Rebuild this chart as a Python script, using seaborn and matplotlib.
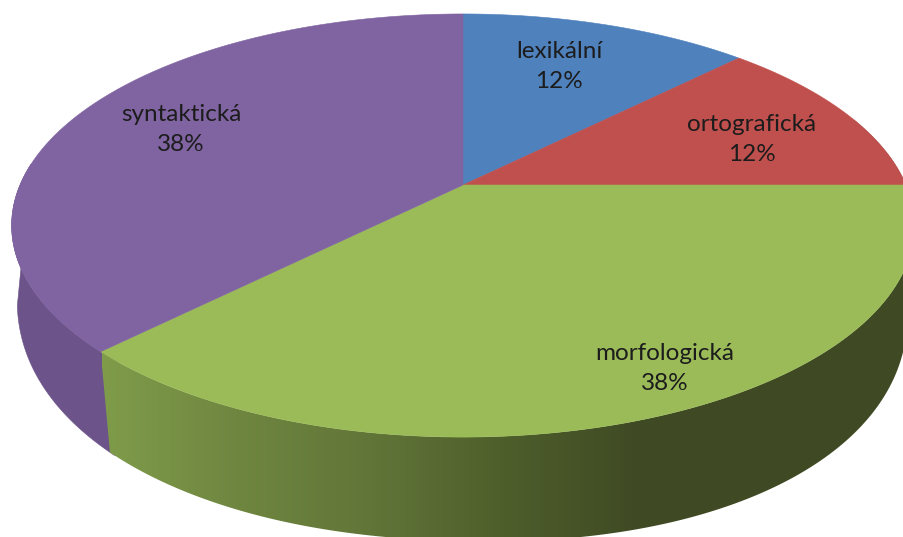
import matplotlib
matplotlib.use("Agg")
import matplotlib.pyplot as plt
from matplotlib.colors import ListedColormap
from matplotlib.patches import Polygon
import numpy as np
import seaborn as sns

categories = ["lexikální", "ortografická", "morfologická", "syntaktická"]
shares = [12.5, 12.5, 37.5, 37.5]
top_colors = ["#4F81BD", "#C0504D", "#9BBB59", "#8064A2"]
label_x = [559, 752, 665, 181]
label_y = [66.5, 139.5, 368.5, 129.5]

sns.set_theme(style="white")
plt.rcParams["font.family"] = ["Lato", "DejaVu Sans"]

W, H = 904, 537


def top_rim(theta):
    # theta in degrees, clockwise from 12 o'clock; perspective view of the disc
    rad = np.radians(theta)
    u, v = np.sin(rad), np.cos(rad)
    s = 1 / (1 + 0.1915 * v)
    return 463 + 443 * u * s, 185 - 203.8 * v * s


def low_rim(t):
    # underside edge of the disc, a tilted and slightly squared ellipse
    rad = np.radians(t)
    rot = np.radians(1.6)
    ex = 447 * np.sign(np.cos(rad)) * np.abs(np.cos(rad)) ** (2 / 2.15)
    ey = 238 * np.sign(np.sin(rad)) * np.abs(np.sin(rad)) ** (2 / 2.15)
    return (461 + ex * np.cos(rot) - ey * np.sin(rot),
            303 + ex * np.sin(rot) + ey * np.cos(rot))


fig, ax = plt.subplots(figsize=(W / 100, H / 100), dpi=100)
ax.set_position([0, 0, 1, 1])
ax.axis("off")

edges = np.concatenate([[0], np.cumsum(shares) * 3.6])
seam = edges[3]

# where the seam between green and purple meets the lower rim
lt = np.linspace(90, 200, 800)
lx, ly = low_rim(lt)
split = lt[np.argmin(np.abs(lx - 110))]

# purple wall goes first so the green one overlaps the seam
# its outer edge runs straight up into the widest point of the top rim
back_top = np.column_stack(top_rim(np.linspace(seam - 3, 276, 80)))
back_low = np.column_stack(low_rim(np.linspace(split - 1, 177, 80)))
back_low[:, 0] += np.linspace(0, 3, 80)
ax.add_patch(Polygon(np.vstack([back_top, back_low[::-1]]), facecolor="#6C5389",
                     edgecolor="#6C5389", linewidth=0.4, zorder=1))

front_top = np.column_stack(top_rim(np.linspace(seam, 70, 200)))
front_low = np.column_stack(low_rim(np.linspace(-30, split, 200)))
green_wall = Polygon(np.vstack([front_top, front_low]), facecolor="none", edgecolor="none")
ax.add_patch(green_wall)
shade = sns.blend_palette(["#7F9C4A", "#6F8640", "#617538", "#4E5E2B", "#3F4A24"], n_colors=256)
img = ax.imshow(np.linspace(0, 1, 256).reshape(1, -1), extent=[102, 640, H, 0],
                cmap=ListedColormap(shade), aspect="auto", zorder=1.1)
img.set_clip_path(green_wall)
dark = ax.imshow(np.ones((1, 1)), extent=[640, W, H, 0], cmap=ListedColormap(["#3F4A24"]),
                 aspect="auto", zorder=1.1)
dark.set_clip_path(green_wall)

# top of the pie
for start, end, color in zip(edges[:-1], edges[1:], top_colors):
    rx, ry = top_rim(np.linspace(start, end, 200))
    ax.fill(np.r_[463, rx], np.r_[185, ry], color=color, linewidth=0.4, zorder=2)

ax.set_xlim(0, W)
ax.set_ylim(H, 0)

for name, share, x, y in zip(categories, shares, label_x, label_y):
    ax.text(x, y, f"{name}\n{share:.0f}%", ha="center", va="center", fontsize=17.5,
            color="#1c1c1c", linespacing=1.51, zorder=3)

fig.savefig("out.png", dpi=100)
